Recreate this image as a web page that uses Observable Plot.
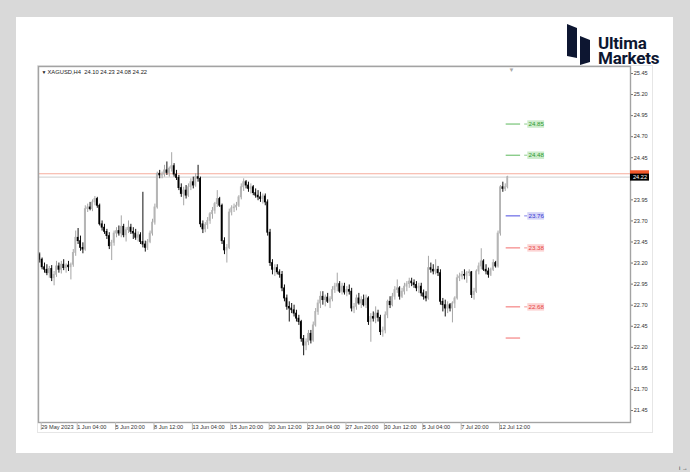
<!DOCTYPE html>
<html>
<head>
<meta charset="utf-8">
<script src="https://cdn.jsdelivr.net/npm/d3@7"></script>
<script src="https://cdn.jsdelivr.net/npm/@observablehq/plot@0.6"></script>
<style>
  html, body { margin: 0; padding: 0; background: #d9d9d9; }
  body { width: 690px; height: 472px; position: relative; overflow: hidden; }
  #card { position: absolute; left: 16px; top: 17px; width: 657px; height: 436px; background: #fff; }
  #win { position: absolute; left: 37px; top: 65px; width: 614px; height: 366px; border: 1px solid #e6e6e6; }
  #chart { position: absolute; left: 0; top: 0; }
  #logo { position: absolute; left: 560px; top: 20px; width: 120px; height: 50px; }
  .lt { position: absolute; left: 38px; top: 16px; font-family: Roboto, "Liberation Sans", sans-serif; font-weight: 700; font-size: 17px; line-height: 15px; color: #0d1631; letter-spacing: -0.2px; white-space: nowrap; }
</style>
</head>
<body>
<div id="card"></div>
<div id="win"></div>
<div id="chart"></div>
<div id="logo">
  <svg width="34" height="50" style="position:absolute;left:0;top:0">
    <polygon points="7,4 17,8 17,38 7,36" fill="#0d1631"/>
    <polygon points="20,16 30,20 30,42 20,45" fill="#0d1631"/>
  </svg>
  <div class="lt">Ultima<br>Markets</div>
</div>
<script>
// ---- data (XAGUSD H4) ----
const timeLabels = ["29 May 2023","1 Jun 04:00","5 Jun 20:00","8 Jun 12:00","13 Jun 04:00","15 Jun 20:00","20 Jun 12:00","23 Jun 04:00","27 Jun 20:00","30 Jun 12:00","5 Jul 04:00","7 Jul 20:00","12 Jul 12:00"];
const timeLabelBars = [0,15,31,47,63,79,95,111,127,143,159,175,191];
const priceTicks = [25.45,25.20,24.95,24.70,24.45,23.95,23.70,23.45,23.20,22.95,22.70,22.45,22.20,21.95,21.70,21.45];

const opens = [23.30,23.24,23.15,23.12,23.08,23.13,23.02,23.06,23.16,23.12,23.18,23.14,23.17,23.15,23.18,23.32,23.50,23.46,23.38,23.36,
23.84,23.86,23.84,23.92,23.96,23.88,23.66,23.62,23.57,23.52,23.40,23.44,23.55,23.58,23.55,23.63,23.53,23.59,23.62,23.57,
23.55,23.50,23.53,23.45,23.42,23.38,23.45,23.55,23.68,23.86,24.26,24.24,24.25,24.30,24.27,24.32,24.35,24.25,24.21,24.09,
24.02,24.06,24.00,24.10,24.16,24.12,24.22,24.20,23.66,23.60,23.65,23.70,23.78,23.82,23.90,23.96,23.88,23.46,23.35,23.38,
23.80,23.85,23.86,23.88,23.98,24.10,24.16,24.12,24.08,24.10,24.03,24.00,23.98,23.96,23.99,23.92,23.56,23.20,23.12,23.14,
23.09,23.06,22.90,22.78,22.68,22.66,22.64,22.60,22.54,22.50,22.30,22.22,22.26,22.36,22.28,22.46,22.62,22.72,22.80,22.76,
22.79,22.74,22.77,22.88,22.92,22.95,22.86,22.92,22.85,22.88,22.86,22.66,22.68,22.78,22.72,22.76,22.70,22.78,22.50,22.56,
22.54,22.60,22.55,22.38,22.40,22.58,22.74,22.70,22.80,22.88,22.90,22.80,22.86,22.92,22.95,22.98,22.96,22.94,22.90,22.92,
22.84,22.80,22.78,23.14,23.12,23.10,23.12,23.08,22.74,22.70,22.66,22.70,22.66,22.72,22.78,23.02,23.04,23.06,23.05,23.08,
23.09,22.82,22.86,23.10,23.16,23.22,23.12,23.10,23.06,23.12,23.20,23.16,23.55,24.10,24.08,24.10];
const highs = [23.32,23.26,23.20,23.18,23.16,23.17,23.10,23.22,23.20,23.22,23.24,23.19,23.22,23.20,23.36,23.58,23.61,23.52,23.44,23.88,
23.90,23.92,23.95,23.99,23.98,23.90,23.70,23.66,23.60,23.56,23.47,23.58,23.62,23.64,23.76,23.66,23.62,23.70,23.66,23.62,
23.60,23.57,23.56,24.04,23.46,23.48,23.58,23.72,23.90,24.28,24.30,24.28,24.36,24.40,24.34,24.51,24.38,24.30,24.24,24.14,
24.10,24.12,24.14,24.20,24.22,24.26,24.36,24.22,23.70,23.68,23.74,23.80,23.86,23.92,24.06,23.98,23.90,23.50,23.42,23.84,
23.88,23.90,23.92,24.00,24.14,24.20,24.18,24.16,24.14,24.12,24.08,24.06,24.04,24.02,24.02,23.95,23.60,23.24,23.18,23.18,
23.12,23.10,22.94,22.82,22.74,22.72,22.70,22.64,22.58,22.52,22.34,22.30,22.40,22.40,22.50,22.66,22.76,22.86,22.86,22.82,
22.84,22.80,22.92,22.96,23.08,22.98,22.96,22.96,22.92,22.94,22.90,22.72,22.82,22.84,22.80,22.82,22.82,22.80,22.60,22.62,
22.68,22.64,22.58,22.44,22.62,22.76,22.80,22.84,22.92,23.00,22.92,22.90,22.96,22.98,23.02,23.02,23.00,22.98,22.96,22.96,
22.88,22.86,23.28,23.20,23.18,23.24,23.16,23.12,22.78,22.76,22.74,22.72,22.74,22.80,23.06,23.08,23.10,23.12,23.10,23.12,
23.10,22.90,23.12,23.20,23.37,23.24,23.18,23.14,23.14,23.24,23.22,23.58,24.12,24.16,24.14,24.23];
const lows = [23.20,23.12,23.08,23.05,23.02,22.98,22.93,23.03,23.08,23.07,23.11,23.08,23.10,23.00,23.15,23.28,23.42,23.34,23.31,23.34,
23.80,23.82,23.81,23.88,23.85,23.64,23.58,23.54,23.48,23.36,23.23,23.40,23.50,23.52,23.50,23.50,23.45,23.55,23.54,23.48,
23.47,23.45,23.42,23.38,23.33,23.35,23.43,23.52,23.65,23.84,24.20,24.20,24.22,24.24,24.22,24.28,24.22,24.18,24.06,23.98,
23.88,23.96,23.98,24.06,24.08,24.10,24.16,23.62,23.55,23.56,23.60,23.66,23.72,23.78,23.86,23.86,23.42,23.30,23.20,23.36,
23.76,23.80,23.82,23.86,23.95,24.05,24.08,24.04,24.02,24.00,23.97,23.94,23.92,23.90,23.88,23.52,23.16,23.06,23.04,23.06,
23.02,22.86,22.74,22.64,22.50,22.60,22.56,22.50,22.46,22.26,22.10,22.16,22.22,22.24,22.26,22.44,22.58,22.66,22.70,22.68,
22.72,22.66,22.74,22.84,22.86,22.84,22.82,22.82,22.80,22.82,22.62,22.60,22.64,22.70,22.66,22.68,22.66,22.46,22.26,22.50,
22.48,22.50,22.34,22.32,22.36,22.54,22.66,22.68,22.76,22.84,22.76,22.78,22.82,22.86,22.90,22.92,22.90,22.86,22.84,22.80,
22.76,22.74,22.76,23.08,23.06,23.06,23.04,22.70,22.62,22.56,22.60,22.62,22.49,22.66,22.76,22.98,23.00,23.00,22.96,23.04,
22.78,22.76,22.84,23.06,23.12,23.10,23.06,23.02,23.04,23.10,23.14,23.14,23.52,24.04,24.05,24.08];
const closes = [23.24,23.15,23.12,23.08,23.13,23.02,23.06,23.16,23.12,23.18,23.14,23.17,23.15,23.18,23.32,23.50,23.46,23.38,23.36,23.84,
23.86,23.84,23.92,23.96,23.88,23.66,23.62,23.57,23.52,23.40,23.44,23.55,23.58,23.55,23.63,23.53,23.59,23.62,23.57,23.55,
23.50,23.53,23.45,23.42,23.38,23.45,23.55,23.68,23.86,24.26,24.24,24.25,24.30,24.27,24.32,24.35,24.25,24.21,24.09,24.02,
24.06,24.00,24.10,24.16,24.12,24.22,24.20,23.66,23.60,23.65,23.70,23.78,23.82,23.90,23.96,23.88,23.46,23.35,23.38,23.80,
23.85,23.86,23.88,23.98,24.10,24.16,24.12,24.08,24.10,24.03,24.00,23.98,23.96,23.99,23.92,23.56,23.20,23.12,23.14,23.09,
23.06,22.90,22.78,22.68,22.66,22.64,22.60,22.54,22.50,22.30,22.22,22.26,22.36,22.28,22.46,22.62,22.72,22.80,22.76,22.79,
22.74,22.77,22.88,22.92,22.95,22.86,22.92,22.85,22.88,22.86,22.66,22.68,22.78,22.72,22.76,22.70,22.78,22.50,22.56,22.54,
22.60,22.55,22.38,22.40,22.58,22.74,22.70,22.80,22.88,22.90,22.80,22.86,22.92,22.95,22.98,22.96,22.94,22.90,22.92,22.84,
22.80,22.78,23.14,23.12,23.10,23.12,23.08,22.74,22.70,22.66,22.70,22.66,22.72,22.78,23.02,23.04,23.06,23.05,23.08,23.09,
22.82,22.86,23.10,23.16,23.22,23.12,23.10,23.06,23.12,23.20,23.16,23.55,24.10,24.08,24.10,24.22];

const bidPrice = 24.22;
const askPrice = 24.26;
const headerText = "XAGUSD,H4  24.10 24.23 24.08 24.22";
const levelValues = [24.85, 24.48, 23.76, 23.38, 22.68, 22.31];
const levelLabels = ["24.85", "24.48", "23.76", "23.38", "22.68", ""];
const levelKinds  = ["g", "g", "b", "r", "r", "r"];

// ---- styles ----
const lineColor  = {g: "#5cb85c", b: "#4a4ae0", r: "#f26b6b"};
const boxColor   = {g: "#cdeccd", b: "#d4d4f7", r: "#fcd4d4"};
const textColor  = {g: "#2f9a2f", b: "#3a3ad2", r: "#e64545"};

const bars = opens.map((o, i) => ({i, open: o, high: highs[i], low: lows[i], close: closes[i]}));
const upBars = bars.filter(d => d.close >= d.open);
const downBars = bars.filter(d => d.close < d.open);
const levels = levelValues.map((v, k) => ({v, label: levelLabels[k], kind: levelKinds[k]}));
const labelled = levels.filter(d => d.label);
const labelMap = new Map(timeLabelBars.map((b, k) => [b, timeLabels[k]]));

const yDomain = [21.3076, 25.533];
const font = "'Liberation Sans', Arial, sans-serif";

const chart = Plot.plot({
  width: 690,
  height: 472,
  marginLeft: 38,
  marginRight: 60,
  marginTop: 66,
  marginBottom: 50,
  style: {background: "transparent", fontFamily: font, fontSize: "5.6px", overflow: "visible", color: "#333"},
  x: {domain: [-0.5, 246.2], axis: null},
  y: {domain: yDomain, axis: null},
  marks: [
    // bid / ask lines
    Plot.ruleY([bidPrice], {stroke: "#cfcfcf", strokeWidth: 1}),
    Plot.ruleY([askPrice], {stroke: "#f6ad9c", strokeWidth: 1}),
    // candles
    Plot.ruleX(upBars, {x: "i", y1: "low", y2: "high", stroke: "#a6a6a6", strokeWidth: 1}),
    Plot.rect(upBars, {x1: d => d.i - 0.36, x2: d => d.i + 0.36, y1: "open", y2: "close", fill: "#b5b5b5", insetTop: -0.4, insetBottom: -0.4}),
    Plot.ruleX(downBars, {x: "i", y1: "low", y2: "high", stroke: "#111", strokeWidth: 1}),
    Plot.rect(downBars, {x1: d => d.i - 0.36, x2: d => d.i + 0.36, y1: "open", y2: "close", fill: "#000", insetTop: -0.4, insetBottom: -0.4}),
    // level segments
    Plot.ruleY(levels, {y: "v", x1: 194.4, x2: 200.4, stroke: d => lineColor[d.kind], strokeWidth: 1}),
    Plot.ruleY(labelled, {y: "v", x1: 202.1, x2: 203.4, stroke: d => lineColor[d.kind], strokeWidth: 1, strokeOpacity: 0.7}),
    Plot.ruleY(labelled, {y: "v", x1: 203.4, x2: 210.4, stroke: d => boxColor[d.kind], strokeWidth: 7.5}),
    Plot.text(labelled, {y: "v", x: 206.9, text: "label", fill: d => textColor[d.kind], fontSize: 6.2}),
    // frame
    Plot.frame({stroke: "#a3a3a3", strokeWidth: 1.4}),
    // axes
    Plot.axisY(priceTicks, {anchor: "right", tickSize: 2, tickPadding: 1.2, tickFormat: d => d.toFixed(2), fontSize: 5.6, fill: "#333", stroke: "#777"}),
    Plot.axisX(timeLabelBars, {anchor: "bottom", tickSize: 8, tickPadding: -5, tickFormat: d => labelMap.get(d), textAnchor: "start", dx: 1.5, fontSize: 5.6, fill: "#333", stroke: "#bbb"}),
    // price labels on right axis (ask box partly hidden behind the bid box)
    Plot.ruleY([askPrice], {strokeWidth: 7, stroke: "#f2582a", insetLeft: 592, insetRight: -19}),
    Plot.ruleY([bidPrice], {strokeWidth: 7, stroke: "#000", insetLeft: 592, insetRight: -19}),
    Plot.text([bidPrice], {y: d => d, frameAnchor: "right", dx: 2.5, textAnchor: "start", text: d => d.toFixed(2), fill: "#fff", fontSize: 5.6}),
    // header
    Plot.text(["▼"], {frameAnchor: "top-left", dx: 3, dy: 4, fontSize: 5, fill: "#222"}),
    Plot.text([headerText], {frameAnchor: "top-left", dx: 9, dy: 3.5, fontSize: 5.8, fill: "#222"}),
    // chart shift marker
    Plot.text(["▼"], {x: 196.6, frameAnchor: "top", dy: 1, fontSize: 6, fill: "#a8a8a8"})
  ]
});
document.getElementById("chart").appendChild(chart);
</script>
</body>
</html>
